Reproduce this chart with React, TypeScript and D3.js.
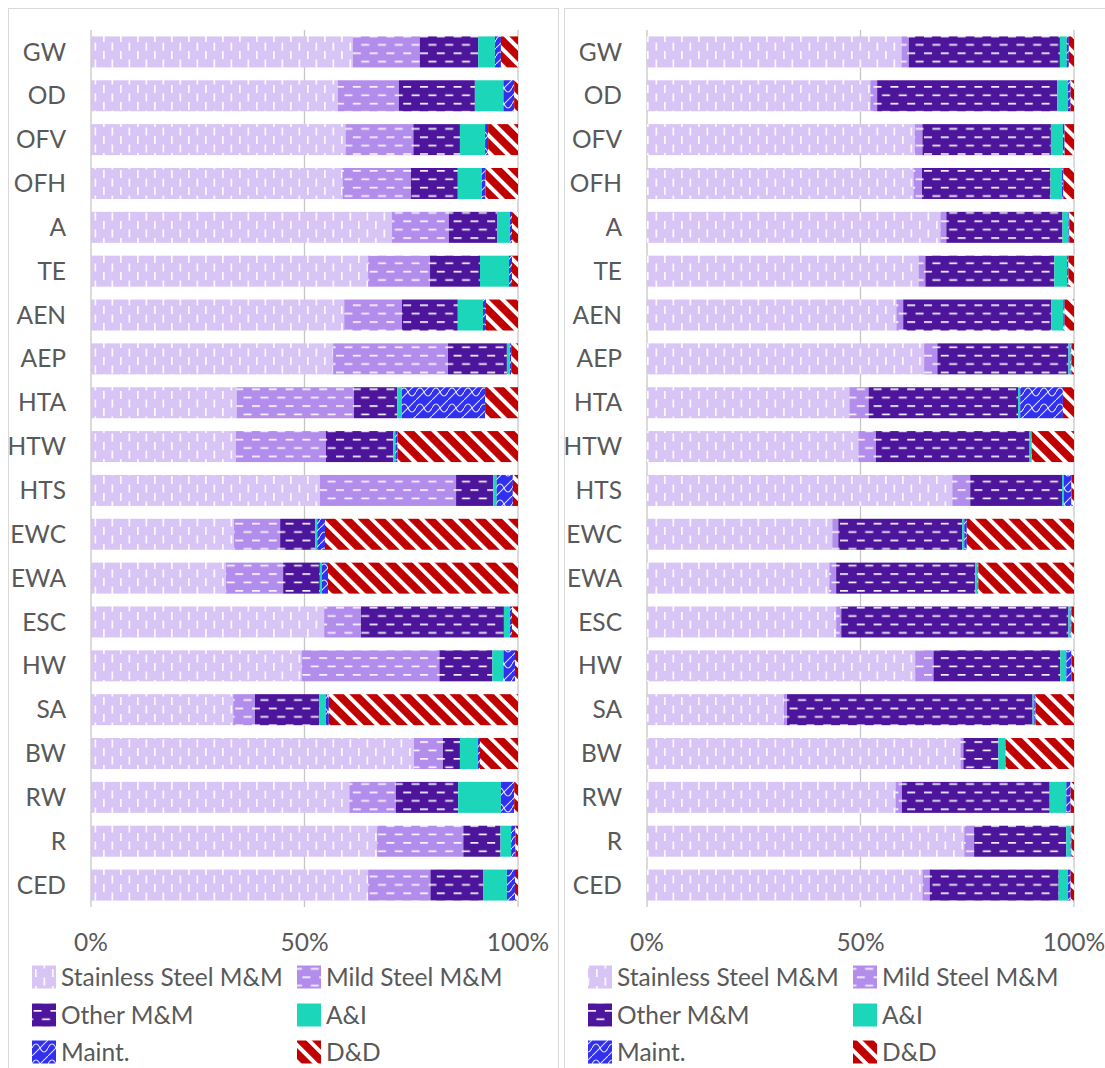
import React from 'react';
import * as d3 from 'd3';

// categories, top to bottom
const categories = ['GW', 'OD', 'OFV', 'OFH', 'A', 'TE', 'AEN', 'AEP', 'HTA', 'HTW', 'HTS', 'EWC', 'EWA', 'ESC', 'HW', 'SA', 'BW', 'RW', 'R', 'CED'];

const seriesNames = ['Stainless Steel M&M', 'Mild Steel M&M', 'Other M&M', 'A&I', 'Maint.', 'D&D'];

// left chart, share of each row (%)
const leftStainless = [61.3, 57.8, 59.6, 58.9, 70.5, 64.9, 59.3, 56.7, 34.1, 33.9, 53.6, 33.5, 31.6, 54.6, 49.3, 33.3, 75.6, 60.5, 67.0, 64.9];
const leftMild = [15.7, 14.3, 15.9, 16.0, 13.3, 14.5, 13.5, 26.9, 27.5, 21.1, 31.9, 10.8, 13.4, 8.6, 32.3, 5.1, 6.8, 10.9, 20.2, 14.6];
const leftOther = [13.7, 17.8, 10.9, 11.0, 11.3, 11.7, 13.1, 13.8, 10.1, 15.8, 8.7, 8.2, 8.6, 33.5, 12.4, 15.1, 4.0, 14.6, 8.7, 12.4];
const leftAI = [3.9, 6.7, 5.9, 5.6, 3.0, 6.8, 5.9, 0.7, 1.1, 0.5, 0.8, 0.5, 0.5, 1.4, 2.6, 1.5, 4.2, 10.0, 2.5, 5.5];
const leftMaint = [1.4, 2.5, 0.7, 0.9, 0.5, 0.7, 0.7, 0.3, 19.5, 0.5, 3.8, 1.8, 1.4, 0.5, 2.7, 0.7, 0.5, 3.1, 1.0, 1.9];
const leftDD = [4.0, 0.9, 7.0, 7.6, 1.4, 1.4, 7.5, 1.6, 7.7, 28.2, 1.2, 45.2, 44.5, 1.4, 0.7, 44.3, 8.9, 0.9, 0.6, 0.7];

// right chart, share of each row (%)
const rightStainless = [59.6, 52.3, 62.7, 62.4, 68.7, 63.6, 58.4, 64.9, 47.4, 49.5, 71.5, 43.4, 42.7, 44.3, 62.8, 32.0, 73.4, 58.2, 74.3, 64.5];
const rightMild = [1.7, 1.6, 1.8, 2.0, 1.4, 1.6, 1.6, 3.1, 4.5, 4.1, 4.2, 1.4, 1.6, 1.2, 4.3, 0.8, 0.7, 1.5, 2.3, 1.7];
const rightOther = [35.4, 42.2, 30.1, 30.1, 27.2, 30.2, 34.7, 30.7, 35.0, 36.0, 21.5, 29.0, 32.6, 53.2, 29.7, 57.5, 8.2, 34.6, 21.6, 30.2];
const rightAI = [1.6, 2.5, 2.8, 2.7, 1.4, 3.0, 2.8, 0.5, 0.5, 0.4, 0.4, 0.5, 0.5, 0.5, 1.4, 0.4, 1.6, 3.9, 1.0, 2.2];
const rightMaint = [0.5, 0.6, 0.4, 0.3, 0.2, 0.3, 0.3, 0.2, 10.0, 0.1, 1.8, 0.6, 0.2, 0.2, 1.2, 0.3, 0.1, 1.0, 0.2, 0.6];
const rightDD = [1.2, 0.8, 2.2, 2.5, 1.1, 1.3, 2.2, 0.6, 2.6, 9.9, 0.6, 25.1, 22.4, 0.6, 0.6, 9.0, 16.0, 0.8, 0.6, 0.8];

const xTicks = [0, 0.5, 1];

const colors = ['#D8C5F5', '#B38DEC', '#4C159B', '#1BD6B8', '#3030EE', '#C00000'];
const textColor = '#595959';
const font = 'Lato, "Liberation Sans", sans-serif';
const fontSize = 24.5;

const W = 1105;
const H = 1068;

// Excel-like fill patterns, one per series
const Patterns = () => (
  <defs>
    <pattern id="p0" patternUnits="userSpaceOnUse" width="17" height="17">
      <rect width="17" height="17" fill={colors[0]} />
      <rect x="1" y="0" width="1.7" height="8" fill="#fff" opacity="0.9" />
      <rect x="9.5" y="8.5" width="1.7" height="8" fill="#fff" opacity="0.9" />
    </pattern>
    <pattern id="p1" patternUnits="userSpaceOnUse" width="16.8" height="16.8">
      <rect width="16.8" height="16.8" fill={colors[1]} />
      <rect x="0" y="2" width="8" height="1.7" fill="#fff" opacity="0.9" />
      <rect x="8.4" y="10.4" width="8" height="1.7" fill="#fff" opacity="0.9" />
    </pattern>
    <pattern id="p2" patternUnits="userSpaceOnUse" width="16.8" height="16.8">
      <rect width="16.8" height="16.8" fill={colors[2]} />
      <rect x="0" y="2" width="8" height="1.7" fill="#fff" opacity="0.95" />
      <rect x="8.4" y="10.4" width="8" height="1.7" fill="#fff" opacity="0.95" />
    </pattern>
    <pattern id="p3" patternUnits="userSpaceOnUse" width="10" height="10">
      <rect width="10" height="10" fill={colors[3]} />
    </pattern>
    <pattern id="p4" patternUnits="userSpaceOnUse" width="16" height="16">
      <rect width="16" height="16" fill={colors[4]} />
      <path d="M0,16 L16,0" stroke="#fff" strokeWidth="1.1" opacity="0.85" fill="none" />
      <path d="M0,8 Q4,0 8,8 Q12,16 16,8" stroke="#fff" strokeWidth="1.1" opacity="0.85" fill="none" />
    </pattern>
    <pattern id="p5" patternUnits="userSpaceOnUse" width="11.8" height="11.8" patternTransform="rotate(-45)">
      <rect width="11.8" height="11.8" fill={colors[5]} />
      <rect x="0" y="0" width="4" height="11.8" fill="#fff" />
    </pattern>
  </defs>
);

const Panel = ({ off, series }: { off: number; series: number[][] }) => {
  const x = d3.scaleLinear().domain([0, 1]).range([91 + off, 518 + off]);
  const y = d3.scaleBand().domain(categories).range([30, 907]).paddingInner(0.293).paddingOuter(0.1465);

  const rows = categories.map((c, i) => {
    const r: any = { cat: c };
    seriesNames.forEach((s, k) => (r[s] = series[k][i]));
    return r;
  });
  const stacked = d3.stack().keys(seriesNames).offset(d3.stackOffsetExpand)(rows);

  const legendCols = [32 + off, 297 + off];
  const legendRows = [977, 1015, 1052];

  return (
    <g>
      {xTicks.map((t) => (
        <line key={t} x1={x(t)} x2={x(t)} y1={30} y2={907} stroke="#C6C6C6" strokeWidth={1.3} />
      ))}
      {stacked.map((layer, k) => (
        <g key={k} fill={`url(#p${k})`}>
          {layer.map((d: any, i) => (
            <rect
              key={i}
              x={x(d[0])}
              width={Math.max(0, x(d[1]) - x(d[0]))}
              y={y(d.data.cat)}
              height={y.bandwidth()}
            />
          ))}
        </g>
      ))}
      {categories.map((c) => (
        <text key={c} x={66 + off} y={y(c)! + y.bandwidth() / 2} dy="0.35em" textAnchor="end"
          fontSize={fontSize} fill={textColor} fontFamily={font}>{c}</text>
      ))}
      {xTicks.map((t) => (
        <text key={t} x={x(t)} y={942} dy="0.35em" textAnchor="middle"
          fontSize={fontSize} fill={textColor} fontFamily={font}>{d3.format('.0%')(t)}</text>
      ))}
      {seriesNames.map((s, k) => {
        const lx = legendCols[k % 2];
        const ly = legendRows[Math.floor(k / 2)];
        return (
          <g key={s}>
            <rect x={lx} y={ly - 11.5} width={24} height={23} fill={`url(#p${k})`} />
            <text x={lx + 29} y={ly} dy="0.35em" fontSize={fontSize} fill={textColor} fontFamily={font}>{s}</text>
          </g>
        );
      })}
    </g>
  );
};

export default function App() {
  const left = [leftStainless, leftMild, leftOther, leftAI, leftMaint, leftDD];
  const right = [rightStainless, rightMild, rightOther, rightAI, rightMaint, rightDD];
  return (
    <svg width={W} height={H} style={{ position: 'absolute', left: 0, top: 0, background: '#fff' }}>
      <Patterns />
      <rect x={0} y={0} width={W} height={H} fill="#fff" />
      <rect x={8.5} y={8.5} width={550} height={H + 10} fill="none" stroke="#D9D9D9" />
      <rect x={564.5} y={8.5} width={560} height={H + 10} fill="none" stroke="#D9D9D9" />
      <Panel off={0} series={left} />
      <Panel off={556} series={right} />
    </svg>
  );
}
